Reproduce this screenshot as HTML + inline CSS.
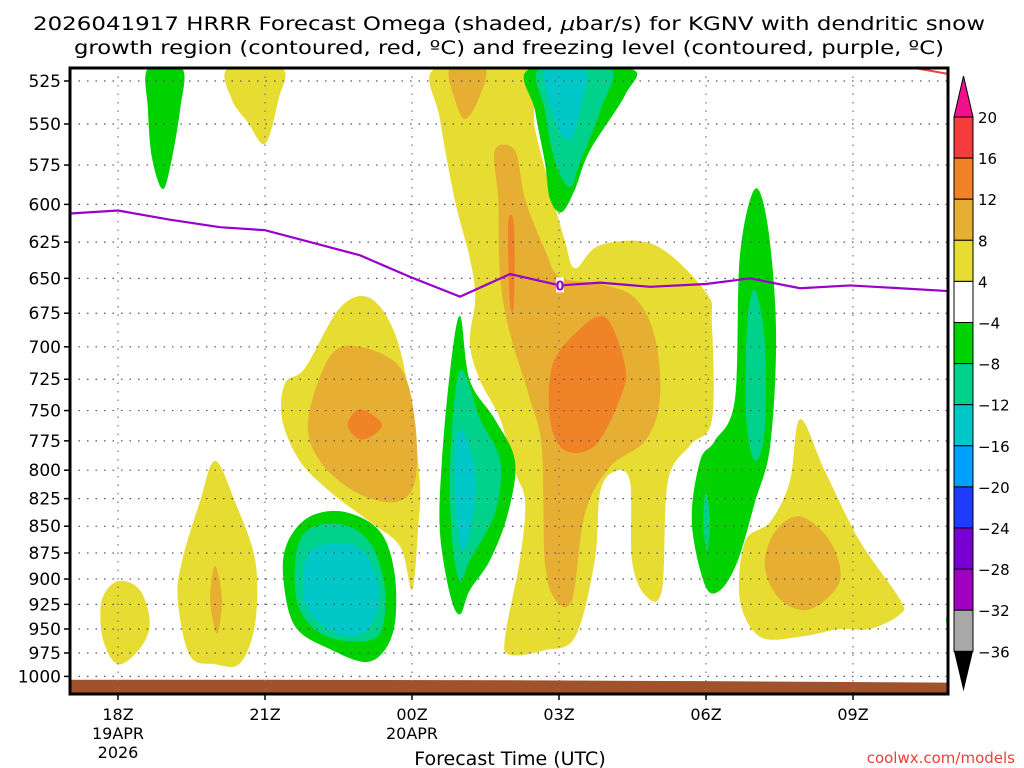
<!DOCTYPE html>
<html><head><meta charset="utf-8"><style>
html,body{margin:0;padding:0;background:#fff;width:1024px;height:768px;overflow:hidden}
svg{display:block}
text{font-family:"DejaVu Sans","Liberation Sans",sans-serif;fill:#000}
</style></head><body>
<svg id="chart" width="1024" height="768" viewBox="0 0 1024 768" xmlns="http://www.w3.org/2000/svg">
<text x="509" y="30" text-anchor="middle" font-size="19" textLength="952" lengthAdjust="spacingAndGlyphs">2026041917 HRRR Forecast Omega (shaded, <tspan font-style="italic">μ</tspan>bar/s) for KGNV with dendritic snow</text>
<text x="509" y="54" text-anchor="middle" font-size="19" textLength="870" lengthAdjust="spacingAndGlyphs">growth region (contoured, red, ºC) and freezing level (contoured, purple, ºC)</text>
<defs><clipPath id="plotclip"><rect x="70" y="68" width="878" height="626"/></clipPath></defs>
<g id="shades" clip-path="url(#plotclip)"></g>
<g id="grid"></g>
<g id="lines" clip-path="url(#plotclip)"></g>
<rect x="70" y="68" width="878" height="626" fill="none" stroke="#000" stroke-width="3"/>
<g id="axes"></g>
<g id="cbar"></g>
<text x="510" y="765" text-anchor="middle" font-size="19">Forecast Time (UTC)</text>
<text x="1015" y="763" text-anchor="end" font-size="15" style="fill:#e8403a">coolwx.com/models</text>
</svg>
<script>
const pressureTicks=[525,550,575,600,625,650,675,700,725,750,775,800,825,850,875,900,925,950,975,1000];
const timeTickHours=[0,3,6,9,12,15];
const timeTickLabels=[["18Z","19APR","2026"],["21Z"],["00Z","20APR"],["03Z"],["06Z"],["09Z"]];
const cbarLevels=["20","16","12","8","4","\u22124","\u22128","\u221212","\u221216","\u221220","\u221224","\u221228","\u221232","\u221236"];
const cbarColors=["#f43c3c","#f08228","#e6ae32","#e6dc32","#ffffff","#00d200","#00d28c","#00c8c8","#00a0ff","#1e3cff","#7800d2","#a000c0","#a8a8a8"];
const freezeHours=[-1,0,1.06,2.08,3,3.92,4.94,5.96,6.98,8,9.02,9.84,10.86,12,12.9,13.92,14.94,15.96,16.94];
const freezeP=[606,604,610,615,617,625,634,649,663,647,655,653,656,654,650,657,655,657,659];
const groundHours=[-1,3,8,12,17];
const groundP=[1003.6,1003.6,1004.2,1005.2,1006.8];
const levelColor={y:"#e6dc32",o:"#e6ae32",d:"#f08228",g:"#00d200",t:"#00d28c",c:"#00c8c8"};
const shapes=[
{lev:"y",pts:[[6.47,518],[8.31,518],[8.51,553],[8.82,590],[9.12,624],[9.33,643],[9.84,627],[10.96,627],[12.0,660],[12.12,683],[12.12,758],[11.67,779],[11.22,810],[11.1,911],[10.76,916],[10.49,882],[10.45,810],[10.14,801],[9.84,819],[9.73,882],[9.33,958],[8.71,972],[8.0,977],[7.9,958],[8.2,882],[8.31,828],[8.1,801],[7.8,757],[7.39,726],[7.18,697],[7.29,664],[7.18,636],[6.88,598],[6.57,547]]},
{lev:"o",pts:[[7.69,566],[8.1,566],[8.31,597],[8.71,630],[9.02,649],[9.84,654],[10.55,664],[10.96,693],[11.06,741],[10.76,775],[10.04,797],[9.53,838],[9.27,920],[8.92,920],[8.71,882],[8.65,781],[8.41,741],[8.0,690],[7.8,650],[7.76,597]]},
{lev:"o",pts:[[6.78,518],[7.49,518],[7.35,536],[7.08,547],[6.88,536]]},
{lev:"d",pts:[[9.33,690],[9.94,678],[10.35,715],[10.24,741],[9.73,779],[9.12,783],[8.82,758],[8.86,715]]},
{lev:"d",pts:[[7.96,613],[8.08,613],[8.08,667],[8.0,667]]},
{lev:"y",pts:[[4.53,671],[5.14,664],[5.65,690],[5.96,741],[6.16,810],[6.12,855],[6.0,911],[5.76,869],[5.14,846],[4.33,819],[3.71,792],[3.35,757],[3.41,728],[3.82,716]]},
{lev:"o",pts:[[4.33,707],[4.94,700],[5.76,716],[6.06,758],[6.06,810],[5.65,828],[4.84,819],[4.12,792],[3.88,758]]},
{lev:"d",pts:[[4.94,749],[5.39,762],[4.98,774],[4.69,762]]},
{lev:"g",pts:[[3.92,841],[4.63,837],[5.35,855],[5.65,897],[5.61,954],[5.14,984],[4.33,971],[3.61,947],[3.37,897],[3.47,864]]},
{lev:"t",pts:[[3.92,852],[4.63,849],[5.18,868],[5.45,911],[5.35,954],[4.84,963],[4.12,954],[3.67,925],[3.63,877]]},
{lev:"c",pts:[[4.12,868],[4.84,868],[5.24,893],[5.31,930],[4.94,956],[4.33,951],[3.82,925],[3.82,882]]},
{lev:"g",pts:[[6.98,677],[7.18,726],[7.69,757],[8.1,792],[7.96,838],[7.59,882],[7.18,911],[6.98,935],[6.78,916],[6.57,855],[6.61,792],[6.78,718]]},
{lev:"t",pts:[[6.98,718],[7.39,757],[7.8,792],[7.69,838],[7.18,882],[6.98,902],[6.82,864],[6.78,792]]},
{lev:"c",pts:[[7.02,766],[7.29,801],[7.22,846],[7.02,873],[6.88,828],[6.88,782]]},
{lev:"g",pts:[[8.41,518],[10.45,518],[10.35,533],[9.63,566],[9.33,590],[9.06,605],[8.82,597],[8.71,573],[8.51,542]]},
{lev:"t",pts:[[8.61,518],[10.04,518],[9.84,542],[9.43,573],[9.22,589],[8.92,573],[8.71,542]]},
{lev:"c",pts:[[8.71,518],[9.53,518],[9.43,542],[9.22,560],[8.92,548]]},
{lev:"g",pts:[[13.0,590],[13.27,616],[13.43,690],[13.31,779],[13.0,828],[12.65,882],[12.29,911],[11.98,906],[11.71,846],[11.88,792],[12.18,775],[12.59,741],[12.69,635]]},
{lev:"t",pts:[[13.0,658],[13.2,697],[13.2,766],[13.0,792],[12.82,757],[12.84,683]]},
{lev:"t",pts:[[12.0,819],[12.08,846],[12.02,873],[11.94,846]]},
{lev:"y",pts:[[0,902],[0.45,911],[0.65,944],[0.45,970],[0,987],[-0.31,960],[-0.33,921]]},
{lev:"y",pts:[[1.98,792],[2.39,828],[2.8,882],[2.8,944],[2.49,986],[1.98,987],[1.47,978],[1.22,921],[1.31,882],[1.67,828]]},
{lev:"o",pts:[[1.98,887],[2.12,920],[2.02,955],[1.88,920]]},
{lev:"y",pts:[[13.92,757],[14.43,801],[15.14,864],[15.96,920],[15.96,935],[15.35,950],[14.73,950],[13.92,958],[13.1,958],[12.69,920],[12.8,864],[13.31,846],[13.71,810]]},
{lev:"o",pts:[[13.92,841],[14.53,864],[14.73,902],[14.12,930],[13.51,920],[13.2,887],[13.41,855]]},
{lev:"y",pts:[[2.24,518],[3.35,518],[3.27,536],[3.0,562],[2.65,549],[2.33,536]]},
{lev:"g",pts:[[0.61,518],[1.31,518],[1.27,541],[1.06,577],[0.9,590],[0.69,570],[0.61,541]]},
{lev:"g",pts:[[16.9,941],[16.98,928],[16.98,956]]}
];
const dgzHours=[16.33,16.94];
const dgzP=[518,521];

const NS="http://www.w3.org/2000/svg";
const X0=118,PXH=49,Y0=81,PLN=924,P0=525;
const xs=h=>X0+PXH*h;
const ys=p=>Y0+PLN*Math.log(p/P0);
function mk(tag,attrs,parent){const e=document.createElementNS(NS,tag);for(const k in attrs)e.setAttribute(k,attrs[k]);parent.appendChild(e);return e;}
function closedCurve(pts){
  const n=pts.length;let d="M"+pts[0][0].toFixed(1)+","+pts[0][1].toFixed(1);
  for(let i=0;i<n;i++){const p0=pts[(i-1+n)%n],p1=pts[i],p2=pts[(i+1)%n],p3=pts[(i+2)%n];
    const c1=[p1[0]+(p2[0]-p0[0])/6,p1[1]+(p2[1]-p0[1])/6],c2=[p2[0]-(p3[0]-p1[0])/6,p2[1]-(p3[1]-p1[1])/6];
    d+="C"+c1[0].toFixed(1)+","+c1[1].toFixed(1)+" "+c2[0].toFixed(1)+","+c2[1].toFixed(1)+" "+p2[0].toFixed(1)+","+p2[1].toFixed(1);}
  return d+"Z";}
const gS=document.getElementById("shades");
shapes.forEach((s,i)=>{
  const pts=s.pts.map(q=>[xs(q[0]),ys(q[1])]);
  const e=mk("path",{d:closedCurve(pts),fill:levelColor[s.lev]},gS);
  
  
});
{let d="M"+xs(groundHours[0])+","+ys(groundP[0]);
 for(let i=1;i<groundHours.length;i++)d+="L"+xs(groundHours[i])+","+ys(groundP[i]);
 d+="L"+xs(groundHours[groundHours.length-1])+",700L"+xs(groundHours[0])+",700Z";
 const e=mk("path",{d:d,fill:"#a0522d"},gS);
 
 }
const gG=document.getElementById("grid");
pressureTicks.forEach(p=>{const e=mk("line",{x1:70,x2:948,y1:ys(p),y2:ys(p),stroke:"#555","stroke-width":1.2,"stroke-dasharray":"1.5,7"},gG);
 
 });
timeTickHours.forEach(h=>{const e=mk("line",{x1:xs(h),x2:xs(h),y1:68,y2:694,stroke:"#777","stroke-width":1.2,"stroke-dasharray":"1.5,7"},gG);
 
 });
const gL=document.getElementById("lines");
{const pts=freezeHours.map((h,i)=>xs(h)+","+ys(freezeP[i])).join(" ");
 const e=mk("polyline",{points:pts,fill:"none",stroke:"#9900cc","stroke-width":2.2},gL);
 
 
 const r=mk("rect",{x:xs(9.02)-4,y:ys(655)-8,width:8,height:15,fill:"#fff"},gL);
 
 
 const t=mk("text",{x:xs(9.02),y:ys(655)+5,"text-anchor":"middle","font-size":13,"font-weight":"bold"},gL);
 t.style.fill="#9900cc";t.textContent="0";
 
 
 const d2=mk("polyline",{points:dgzHours.map((h,i)=>xs(h)+","+ys(dgzP[i])).join(" "),fill:"none",stroke:"#f04040","stroke-width":2},gL);
 
 }
const gA=document.getElementById("axes");
pressureTicks.forEach(p=>{
 const l=mk("line",{x1:64,x2:70,y1:ys(p),y2:ys(p),stroke:"#000","stroke-width":1.5},gA);
 
 
 const t=mk("text",{x:61,y:ys(p)+6,"text-anchor":"end","font-size":17},gA);t.textContent=p;
 
 });
timeTickHours.forEach((h,i)=>{
 const l=mk("line",{x1:xs(h),x2:xs(h),y1:694,y2:700,stroke:"#000","stroke-width":1.5},gA);
 
 
 timeTickLabels[i].forEach((s,j)=>{const t=mk("text",{x:xs(h),y:720+j*19,"text-anchor":"middle","font-size":16},gA);t.textContent=s;
 
 });});
const gC=document.getElementById("cbar");
const CX=954,CW=19,CT=117,CH=41.1;
{const tri=mk("polygon",{points:`${CX},${CT} ${CX+CW},${CT} ${CX+CW/2},${CT-41}`,fill:"#f0108c",stroke:"#000","stroke-width":1},gC);
 
 }
cbarColors.forEach((c,i)=>{const r=mk("rect",{x:CX,y:CT+i*CH,width:CW,height:CH,fill:c,stroke:"#000","stroke-width":1},gC);
 
 });
{const yb=CT+cbarColors.length*CH;
 const tri=mk("polygon",{points:`${CX},${yb} ${CX+CW},${yb} ${CX+CW/2},${yb+40}`,fill:"#000"},gC);
 
 }
cbarLevels.forEach((s,i)=>{const t=mk("text",{x:978,y:CT+i*CH+6,"font-size":15},gC);t.textContent=s;
 
 });
</script>
</body></html>
